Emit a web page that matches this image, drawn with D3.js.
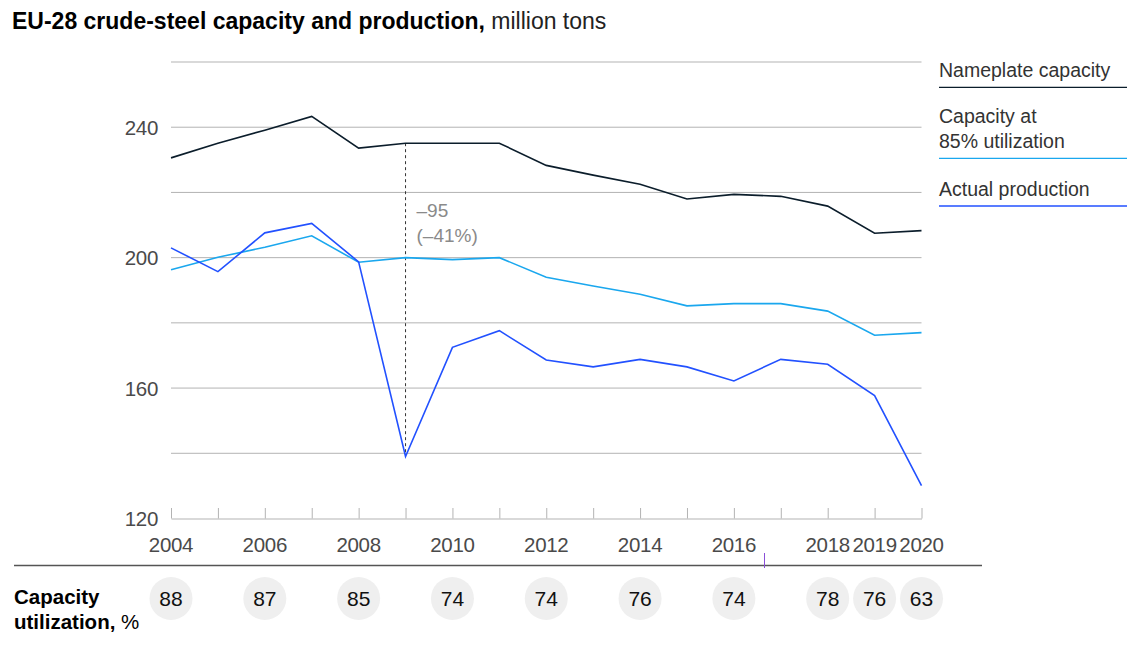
<!DOCTYPE html>
<html><head><meta charset="utf-8">
<script src="https://cdn.jsdelivr.net/npm/d3@7/dist/d3.min.js"></script>
<style>
html,body{margin:0;padding:0;background:#fff;}
svg{display:block;font-family:"Liberation Sans",Arial,sans-serif;}
</style></head>
<body>
<svg id="chart" width="1134" height="647"></svg>
<script>
const years = [2004,2005,2006,2007,2008,2009,2010,2011,2012,2013,2014,2015,2016,2017,2018,2019,2020];
const nameplate = [230.6,235.1,239.1,243.3,233.6,235.1,235.1,235.1,228.3,225.3,222.5,218.0,219.4,218.8,215.8,207.5,208.3];
const capacity85 = [196.3,200.1,203.2,206.7,198.6,200.0,199.4,200.0,194.0,191.3,188.8,185.2,185.9,185.9,183.6,176.2,177.0];
const production = [203.0,195.7,207.6,210.5,198.7,139.0,172.5,177.6,168.6,166.5,168.8,166.5,162.2,168.8,167.3,157.7,130.1];
const xTickLabels = [2004,2006,2008,2010,2012,2014,2016,2018,2019,2020];
const yGrid = [140,160,180,200,220,240,260];
const yLabels = [120,160,200,240];
const utilYears = [2004,2006,2008,2010,2012,2014,2016,2018,2019,2020];
const utilValues = [88,87,85,74,74,76,74,78,76,63];
const seriesNames = ["Nameplate capacity","Capacity at|85% utilization","Actual production"];
const seriesColors = ["#0b1d2b","#1aa7ee","#2251ff"];

const svg = d3.select("#chart");
const x = d3.scaleLinear().domain([2004,2020]).range([171,921.5]);
const y = d3.scaleLinear().domain([120,260]).range([518.5,62]);

// title
const t = svg.append("text").attr("x",12).attr("y",29).attr("font-size",23).attr("fill","#000");
t.append("tspan").attr("font-weight","bold").text("EU-28 crude-steel capacity and production,");
t.append("tspan").attr("fill","#222").text(" million tons");

// grid
svg.append("g").selectAll("line").data(yGrid).join("line")
  .attr("x1",x(2004)).attr("x2",x(2020)).attr("y1",d=>y(d)).attr("y2",d=>y(d))
  .attr("stroke","#b3b3b3").attr("stroke-width",1);

// x axis
const xAxis = d3.axisBottom(x).tickValues(years).tickSize(0).tickFormat("");
const gx = svg.append("g").attr("transform",`translate(0,${y(120)})`).call(xAxis);
gx.select(".domain").attr("stroke","#b3b3b3");
gx.selectAll(".tick").append("line").attr("y1",0).attr("y2",-10.5).attr("stroke","#b3b3b3");
svg.append("g").selectAll("text").data(xTickLabels).join("text")
  .attr("x",d=>x(d)).attr("y",552).attr("text-anchor","middle")
  .attr("font-size",20.5).attr("fill","#4a4a4a").attr("letter-spacing",-0.3).text(d=>d);

// y labels
const yAxis = d3.axisLeft(y).tickValues(yLabels).tickSize(0).tickPadding(0);
const gy = svg.append("g").attr("transform","translate(158,0)").call(yAxis);
gy.select(".domain").remove();
gy.selectAll("text").attr("font-size",20.5).attr("fill","#4a4a4a")
  .attr("font-family","'Liberation Sans',Arial,sans-serif").attr("dy","0.35em").attr("letter-spacing",-0.3);

// annotation dashed line
svg.append("line")
  .attr("x1",x(2009)).attr("x2",x(2009))
  .attr("y1",y(nameplate[years.indexOf(2009)])).attr("y2",y(production[years.indexOf(2009)]))
  .attr("stroke","#333").attr("stroke-width",1).attr("stroke-dasharray","3,3");
svg.append("text").attr("x",x(2009)+11).attr("y",217).attr("font-size",19).attr("fill","#8a8a8a").text("–95");
svg.append("text").attr("x",x(2009)+11).attr("y",241.5).attr("font-size",19).attr("fill","#8a8a8a").text("(–41%)");

// lines
const line = d3.line().x((d,i)=>x(years[i])).y(d=>y(d));
[nameplate,capacity85,production].forEach((s,k)=>{
  svg.append("path").datum(s).attr("d",line).attr("fill","none")
    .attr("stroke",seriesColors[k]).attr("stroke-width",1.6).attr("stroke-linejoin","miter");
});

// legend
const legendBase = [[76.5],[123,148.3],[196]];
const legendUnder = [87.3,158.3,206];
seriesNames.forEach((n,k)=>{
  const parts = n.split("|");
  parts.forEach((p,j)=>{
    svg.append("text").attr("x",939).attr("y",legendBase[k][j]).attr("font-size",19.5)
      .attr("fill","#333").text(p);
  });
  svg.append("line").attr("x1",939).attr("x2",1127).attr("y1",legendUnder[k]).attr("y2",legendUnder[k])
    .attr("stroke",seriesColors[k]).attr("stroke-width",1.3);
});

// separator
svg.append("line").attr("x1",14).attr("x2",982).attr("y1",565.5).attr("y2",565.5)
  .attr("stroke","#555").attr("stroke-width",1.3);
svg.append("line").attr("x1",764.5).attr("x2",764.5).attr("y1",553).attr("y2",568)
  .attr("stroke","#8a4fd8").attr("stroke-width",1);

// utilization label
svg.append("text").attr("x",14).attr("y",604).attr("font-size",20.5).attr("font-weight","bold").attr("fill","#000").text("Capacity");
const u = svg.append("text").attr("x",14).attr("y",629).attr("font-size",20.5).attr("fill","#000");
u.append("tspan").attr("font-weight","bold").text("utilization,");
u.append("tspan").text(" %");

// circles
const gc = svg.append("g").selectAll("g").data(utilYears.map((yr,i)=>({yr,v:utilValues[i]}))).join("g")
  .attr("transform",d=>`translate(${x(d.yr)},598.5)`);
gc.append("circle").attr("r",21.5).attr("fill","#efefef");
gc.append("text").attr("text-anchor","middle").attr("dy","0.36em").attr("font-size",21).attr("fill","#111").text(d=>d.v);
</script>
</body></html>
